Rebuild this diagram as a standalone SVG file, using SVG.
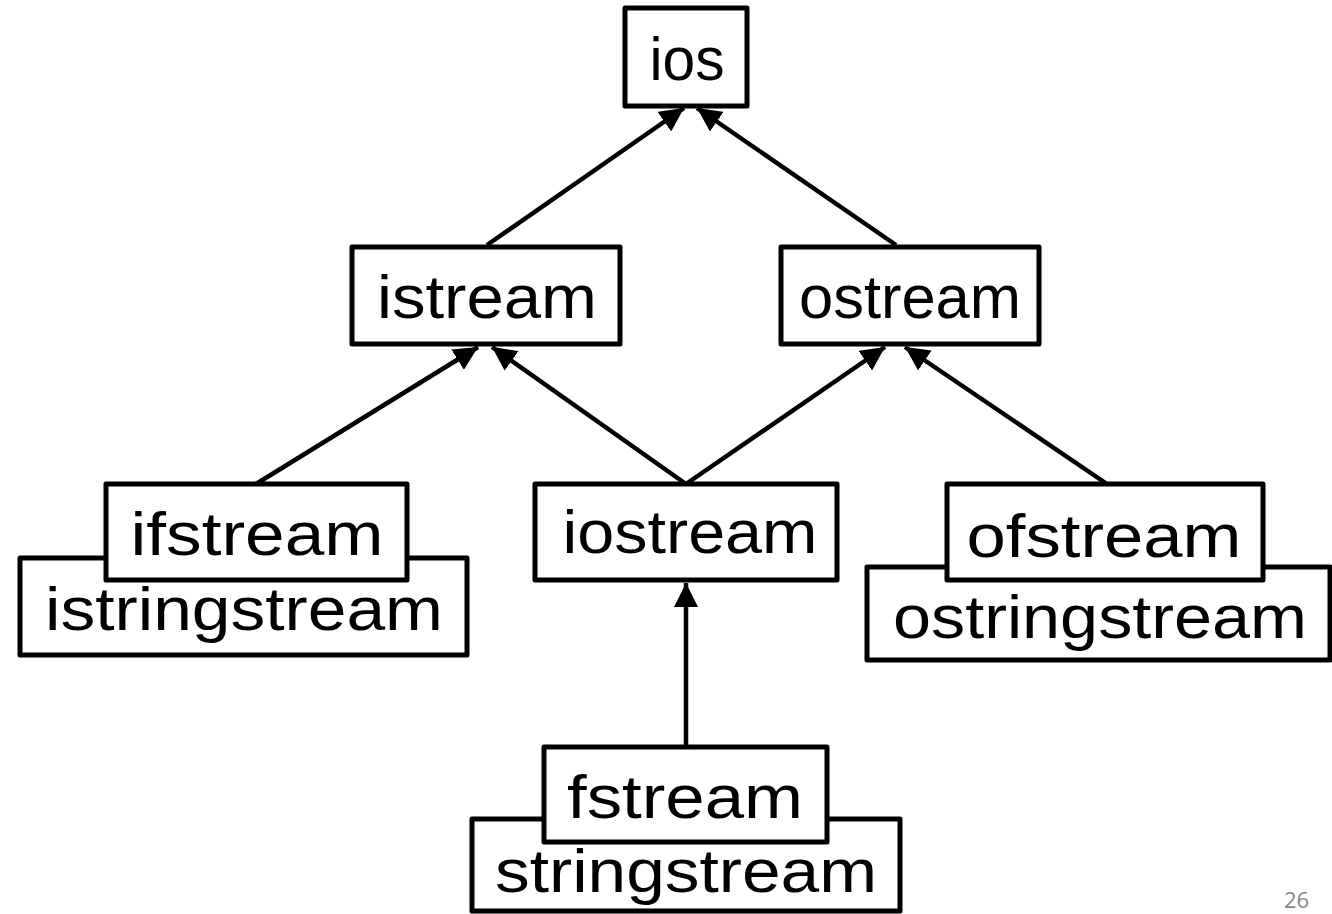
<svg xmlns="http://www.w3.org/2000/svg" width="1332" height="914" viewBox="0 0 1332 914">
<style>
.box{fill:#fff;stroke:#000;stroke-width:5;stroke-linejoin:round}
.lbl{font-family:"Liberation Sans",Arial,sans-serif;font-size:62px;fill:#000;text-anchor:middle}
.edge{stroke:#000;stroke-width:4.5;fill:none}
.pg{font-family:"Open Sans","Liberation Sans",sans-serif;font-size:22px;fill:#888}
</style>
<defs>
<marker id="arr" markerUnits="userSpaceOnUse" markerWidth="26" markerHeight="24" refX="24" refY="12" orient="auto">
<path d="M0,0 L24,12 L0,24 z" fill="#000"/>
</marker>
</defs>
<rect width="1332" height="914" fill="#fff"/>
<g id="connectors">
<line class="edge" x1="487" y1="245" x2="684" y2="108" marker-end="url(#arr)"/>
<line class="edge" x1="896" y1="245" x2="697" y2="108" marker-end="url(#arr)"/>
<line class="edge" x1="256" y1="484" x2="478" y2="347" marker-end="url(#arr)"/>
<line class="edge" x1="686" y1="484" x2="492" y2="347" marker-end="url(#arr)"/>
<line class="edge" x1="686" y1="484" x2="885" y2="347" marker-end="url(#arr)"/>
<line class="edge" x1="1107" y1="484" x2="905" y2="347" marker-end="url(#arr)"/>
<line class="edge" x1="686" y1="747" x2="686" y2="583" marker-end="url(#arr)"/>
</g>
<g id="ios">
<rect class="box" x="625" y="8" width="122" height="98"/>
<text class="lbl" x="687" y="80" textLength="75" lengthAdjust="spacingAndGlyphs">ios</text>
</g>
<g id="istream">
<rect class="box" x="352" y="247" width="268" height="97"/>
<text class="lbl" x="487" y="318" textLength="220" lengthAdjust="spacingAndGlyphs">istream</text>
</g>
<g id="ostream">
<rect class="box" x="781" y="247" width="258" height="97"/>
<text class="lbl" x="910" y="318" textLength="222" lengthAdjust="spacingAndGlyphs">ostream</text>
</g>
<g id="istringstream">
<rect class="box" x="20" y="558" width="447" height="97"/>
<text class="lbl" x="244" y="630" textLength="398" lengthAdjust="spacingAndGlyphs">istringstream</text>
</g>
<g id="ifstream">
<rect class="box" x="106" y="484" width="301" height="96"/>
<text class="lbl" x="257" y="555" textLength="253" lengthAdjust="spacingAndGlyphs">ifstream</text>
</g>
<g id="iostream">
<rect class="box" x="535" y="484" width="302" height="96"/>
<text class="lbl" x="690" y="553" textLength="255" lengthAdjust="spacingAndGlyphs">iostream</text>
</g>
<g id="ostringstream">
<rect class="box" x="867" y="567" width="463" height="93"/>
<text class="lbl" x="1100" y="638" textLength="414" lengthAdjust="spacingAndGlyphs">ostringstream</text>
</g>
<g id="ofstream">
<rect class="box" x="947" y="484" width="316" height="96"/>
<text class="lbl" x="1104" y="557" textLength="275" lengthAdjust="spacingAndGlyphs">ofstream</text>
</g>
<g id="stringstream">
<rect class="box" x="472" y="819" width="428" height="92"/>
<text class="lbl" x="686" y="892" textLength="382" lengthAdjust="spacingAndGlyphs">stringstream</text>
</g>
<g id="fstream">
<rect class="box" x="544" y="747" width="283" height="95"/>
<text class="lbl" x="685" y="818" textLength="236" lengthAdjust="spacingAndGlyphs">fstream</text>
</g>
<text class="pg" x="1284" y="908">26</text>
</svg>
